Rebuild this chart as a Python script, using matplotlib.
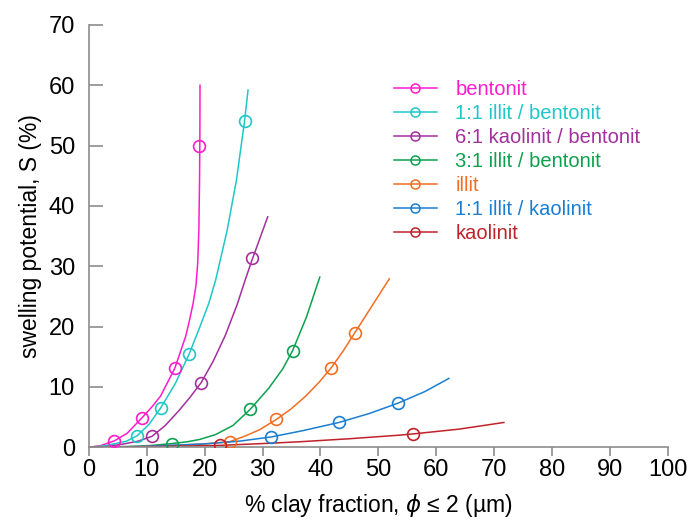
import matplotlib.pyplot as plt

plt.rcParams['font.family'] = ['Liberation Sans', 'DejaVu Sans']

labels = ["bentonit", "1:1 illit / bentonit", "6:1 kaolinit / bentonit",
          "3:1 illit / bentonit", "illit", "1:1 illit / kaolinit", "kaolinit"]
colors = ["#ff1ccd", "#1ec8c8", "#a3309c", "#0aa24e", "#f26e22", "#1a7ed2", "#c0222a"]

# measured points (clay fraction %, swelling potential %)
bent_x = [4.4, 9.2, 14.85, 19.1]
bent_y = [1.05, 4.9, 13.1, 50.0]
ib11_x = [8.35, 12.4, 17.3, 26.9]
ib11_y = [1.9, 6.5, 15.4, 54.0]
kb61_x = [10.9, 19.4, 28.1]
kb61_y = [1.8, 10.7, 31.3]
ib31_x = [14.3, 27.9, 35.2]
ib31_y = [0.6, 6.3, 16.0]
ill_x = [24.3, 32.4, 41.9, 45.9]
ill_y = [0.9, 4.6, 13.2, 19.0]
ik11_x = [31.5, 43.2, 53.4]
ik11_y = [1.7, 4.1, 7.3]
kao_x = [22.6, 56.0]
kao_y = [0.3, 2.2]

# trend lines
bent_fx = [0, 2, 4.4, 6.6, 9.2, 11, 12.4, 14.85, 16.7, 17.4, 18.0, 18.5, 18.8, 19.0, 19.12, 19.18, 19.2]
bent_fy = [0, 0.25, 1.05, 2.3, 4.9, 6.8, 8.5, 13.1, 18.3, 21.1, 23.8, 26.8, 30.5, 36.0, 44.0, 52.0, 60.0]
ib11_fx = [0, 2.5, 4.6, 6.5, 8.35, 10.4, 12.4, 14.9, 17.3, 19.0, 20.7, 21.9, 23.9, 25.5, 26.9, 27.5]
ib11_fy = [0, 0.2, 0.6, 1.0, 1.9, 3.8, 6.5, 10.5, 15.4, 19.5, 23.8, 27.7, 36.0, 44.3, 54.1, 59.2]
kb61_fx = [0, 3, 5.8, 8.5, 10.9, 13.2, 15.5, 17.5, 19.4, 21.5, 23.6, 25.6, 27.0, 28.1, 30.9]
kb61_fy = [0, 0.1, 0.5, 1.0, 1.8, 3.6, 6.0, 8.3, 10.7, 14.3, 18.6, 23.6, 27.7, 30.8, 38.2]
ib31_fx = [0, 7, 11, 14.3, 17, 19.2, 21.9, 24.9, 27.9, 31.1, 33.5, 35.2, 37.6, 39.9]
ib31_fy = [0, 0.1, 0.3, 0.6, 0.9, 1.3, 2.1, 3.6, 6.3, 9.8, 13.0, 16.0, 21.6, 28.2]
ill_fx = [0, 8, 15, 20, 24.3, 27, 29.5, 32.4, 35, 37.5, 39.8, 41.9, 43.9, 45.9, 49, 51.9]
ill_fy = [0, 0.1, 0.3, 0.55, 0.9, 1.85, 2.9, 4.6, 6.4, 8.5, 10.8, 13.2, 15.9, 18.9, 23.55, 27.9]
ik11_fx = [0, 10, 20, 26, 31.5, 37, 43.2, 48.5, 53.4, 58, 62.2]
ik11_fy = [0, 0.15, 0.55, 1.0, 1.7, 2.75, 4.1, 5.6, 7.3, 9.2, 11.4]
kao_fx = [0, 10, 22.6, 30, 36.4, 45, 53.7, 56.0, 64, 71.7]
kao_fy = [0, 0.08, 0.3, 0.6, 0.9, 1.4, 2.0, 2.2, 3.0, 4.1]

points = [(bent_x, bent_y), (ib11_x, ib11_y), (kb61_x, kb61_y), (ib31_x, ib31_y),
          (ill_x, ill_y), (ik11_x, ik11_y), (kao_x, kao_y)]
fits = [(bent_fx, bent_fy), (ib11_fx, ib11_fy), (kb61_fx, kb61_fy), (ib31_fx, ib31_fy),
        (ill_fx, ill_fy), (ik11_fx, ik11_fy), (kao_fx, kao_fy)]

fig = plt.figure(figsize=(6.89, 5.2), dpi=100)
ax = fig.add_axes([0.129, 0.140, 0.840, 0.812])

for (px, py), (fx, fy), c, lab in zip(points, fits, colors, labels):
    ax.plot(fx, fy, color=c, lw=1.1, solid_joinstyle="round", zorder=2)
    ax.plot(px, py, ls="none", marker="o", ms=8.5, mfc="none", mec=c, mew=1.2, zorder=3)
    # legend handle: line with an open circle
    ax.plot([], [], color=c, lw=1.1, marker="o", ms=6.5, mfc="none", mec=c, mew=1.1, label=lab)

ax.set_xlim(0, 100)
ax.set_ylim(0, 70)
ax.set_xticks(range(0, 101, 10))
ax.set_yticks(range(0, 71, 10))

for s in ["top", "right"]:
    ax.spines[s].set_visible(False)
for s in ["left", "bottom"]:
    ax.spines[s].set_color("#8c8c8c")
    ax.spines[s].set_linewidth(1.2)

ax.tick_params(axis="y", direction="in", length=10, width=1.2, color="#8c8c8c",
               labelsize=17, pad=10)
ax.tick_params(axis="x", direction="out", length=6.5, width=1.2, color="#8c8c8c",
               labelsize=17, pad=2)

ax.set_ylabel("swelling potential, S (%)", fontsize=16.5, labelpad=5)
ax.set_xlabel(r"% clay fraction, $\phi$ ≤ 2 (µm)", fontsize=16.5, labelpad=8)

leg = ax.legend(loc="upper left", bbox_to_anchor=(0.557, 0.866), bbox_transform=fig.transFigure,
                frameon=False, fontsize=14.5, borderpad=0, handlelength=2.15,
                handletextpad=0.9, labelspacing=0.25, labelcolor="linecolor")

fig.savefig("out.png", dpi=100)
